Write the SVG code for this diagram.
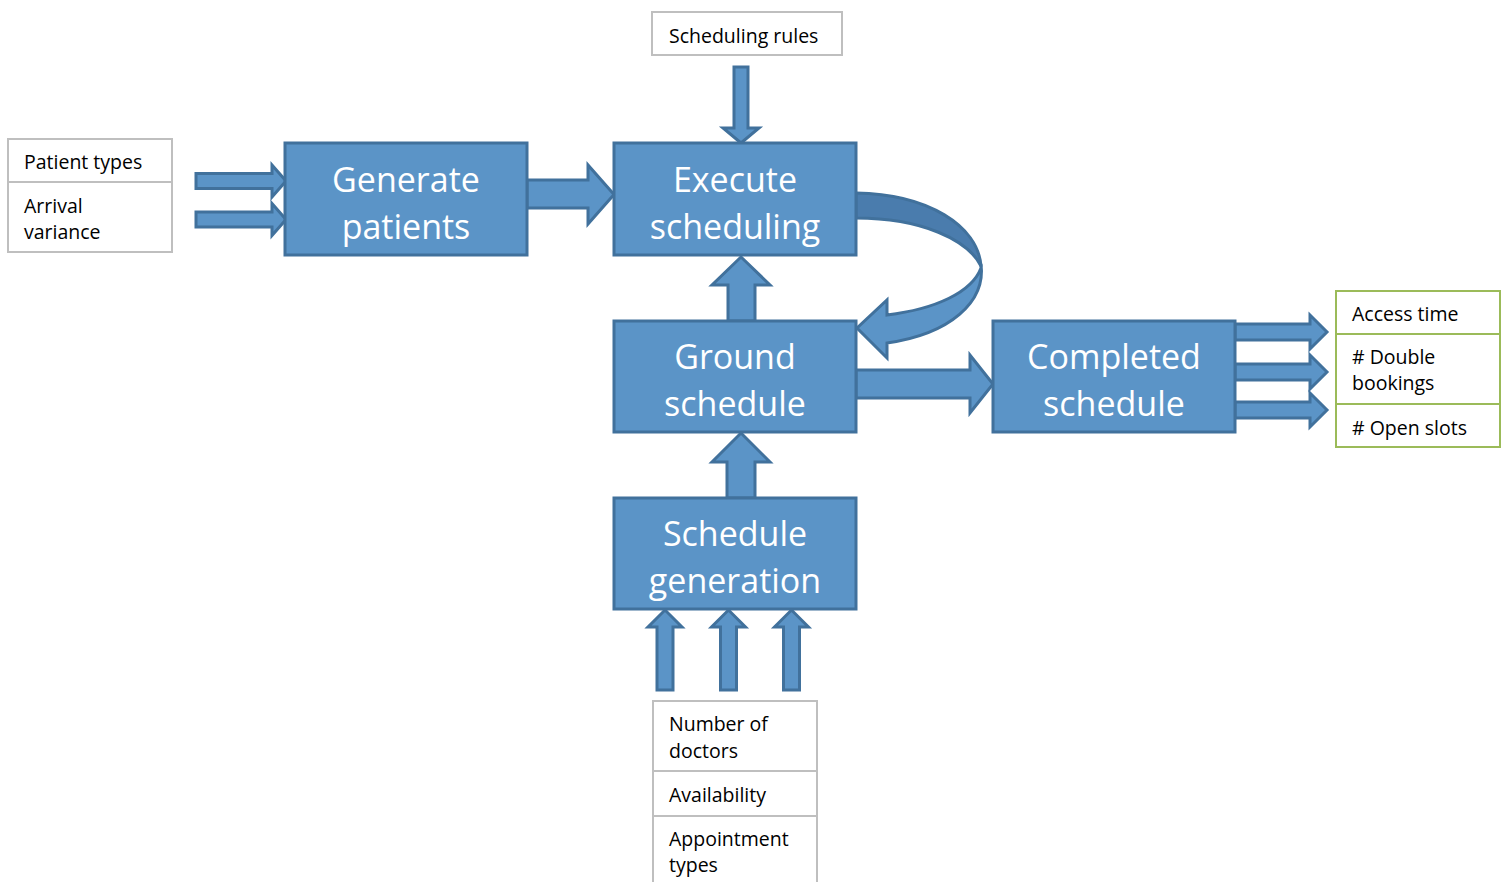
<svg xmlns="http://www.w3.org/2000/svg" width="1501" height="882" viewBox="0 0 1501 882">
  <defs>
    <style>
      .proc { fill: #5b94c7; stroke: #41719c; stroke-width: 3; }
      .proc-text { font-family: "Open Sans", "Noto Sans", sans-serif; font-size: 34px; fill: #ffffff; text-anchor: middle; }
      .arrow { fill: #5b94c7; stroke: #41719c; stroke-width: 3; stroke-linejoin: miter; }
      .arrow-back { fill: #4a7cad; stroke: #41719c; stroke-width: 3; stroke-linejoin: round; }
      .in-box { fill: #ffffff; stroke: #bfbfbf; stroke-width: 2; }
      .out-box { fill: #ffffff; stroke: #9bbb59; stroke-width: 2; }
      .label { font-family: "Open Sans", "Noto Sans", sans-serif; font-size: 19.5px; fill: #000000; }
    </style>
  </defs>
  <rect width="1501" height="882" fill="#ffffff"/>

  <!-- Input tables -->
  <g id="scheduling-rules">
    <rect class="in-box" x="652" y="12" width="190" height="43"/>
    <text class="label" x="669" y="43">Scheduling rules</text>
  </g>

  <g id="patient-inputs">
    <rect class="in-box" x="8" y="139" width="164" height="43"/>
    <rect class="in-box" x="8" y="182" width="164" height="70"/>
    <text class="label" x="24" y="169">Patient types</text>
    <text class="label" x="24" y="213">Arrival</text>
    <text class="label" x="24" y="239">variance</text>
  </g>

  <g id="doctor-inputs">
    <rect class="in-box" x="653" y="701" width="164" height="70"/>
    <rect class="in-box" x="653" y="771" width="164" height="45"/>
    <rect class="in-box" x="653" y="816" width="164" height="80"/>
    <text class="label" x="669" y="731">Number of</text>
    <text class="label" x="669" y="758">doctors</text>
    <text class="label" x="669" y="802">Availability</text>
    <text class="label" x="669" y="846">Appointment</text>
    <text class="label" x="669" y="872">types</text>
  </g>

  <g id="outputs">
    <rect class="out-box" x="1336" y="291" width="164" height="43"/>
    <rect class="out-box" x="1336" y="334" width="164" height="70"/>
    <rect class="out-box" x="1336" y="404" width="164" height="43"/>
    <text class="label" x="1352" y="321">Access time</text>
    <text class="label" x="1352" y="364"># Double</text>
    <text class="label" x="1352" y="390">bookings</text>
    <text class="label" x="1352" y="435"># Open slots</text>
  </g>

  <!-- Block arrows -->
  <g id="connectors">
    <polygon class="arrow" points="196,173.5 272,173.5 272,165 286,181 272,197 272,188.5 196,188.5"/>
    <polygon class="arrow" points="196,212 272,212 272,203.5 286,219.5 272,235.5 272,227 196,227"/>
    <polygon class="arrow" points="527,180 588,180 588,165 614,194.5 588,224 588,208 527,208"/>
    <polygon class="arrow" points="734,67 748,67 748,128 759,128 741,143 723,128 734,128"/>
    <polygon class="arrow" points="728,321 728,285 712,285 741,257 770,285 755,285 755,321"/>
    <polygon class="arrow" points="727,498 727,462 712,462 741,433 770,462 755,462 755,498"/>
    <polygon class="arrow" points="856,370 970,370 970,355 993,384 970,413 970,398 856,398"/>
    <!-- outputs -->
    <polygon class="arrow" points="1235,324 1310,324 1310,315 1327,332 1310,349 1310,340 1235,340"/>
    <polygon class="arrow" points="1235,364 1310,364 1310,355 1327,372 1310,389 1310,380 1235,380"/>
    <polygon class="arrow" points="1235,402 1310,402 1310,393 1327,410 1310,427 1310,418 1235,418"/>
    <!-- schedule generation inputs -->
    <polygon class="arrow" points="657,690 657,627 648,627 665,610 682,627 673,627 673,690"/>
    <polygon class="arrow" points="720.5,690 720.5,627 711.5,627 728.5,610 745.5,627 736.5,627 736.5,690"/>
    <polygon class="arrow" points="783.5,690 783.5,627 774.5,627 791.5,610 808.5,627 799.5,627 799.5,690"/>
    <!-- feedback loop from execution back to ground schedule -->
    <path class="arrow-back" d="M856,193 C928,194 978,226 981,266 C968,240 922,218 856,218 Z"/>
    <path class="arrow" d="M981,264 C986,302 950,334 887,343 L887,358 L857,328 L887,300 L887,315 C936,309 972,292 981,268 Z"/>
  </g>

  <!-- Process nodes -->
  <g id="generate-patients">
    <rect class="proc" x="285" y="143" width="242" height="112"/>
    <text class="proc-text" x="406" y="192">Generate</text>
    <text class="proc-text" x="406" y="239">patients</text>
  </g>

  <g id="execute-scheduling">
    <rect class="proc" x="614" y="143" width="242" height="112"/>
    <text class="proc-text" x="735" y="192">Execute</text>
    <text class="proc-text" x="735" y="239">scheduling</text>
  </g>

  <g id="ground-schedule">
    <rect class="proc" x="614" y="321" width="242" height="111"/>
    <text class="proc-text" x="735" y="369">Ground</text>
    <text class="proc-text" x="735" y="416">schedule</text>
  </g>

  <g id="completed-schedule">
    <rect class="proc" x="993" y="321" width="242" height="111"/>
    <text class="proc-text" x="1114" y="369">Completed</text>
    <text class="proc-text" x="1114" y="416">schedule</text>
  </g>

  <g id="schedule-generation">
    <rect class="proc" x="614" y="498" width="242" height="111"/>
    <text class="proc-text" x="735" y="546">Schedule</text>
    <text class="proc-text" x="735" y="593">generation</text>
  </g>
</svg>
